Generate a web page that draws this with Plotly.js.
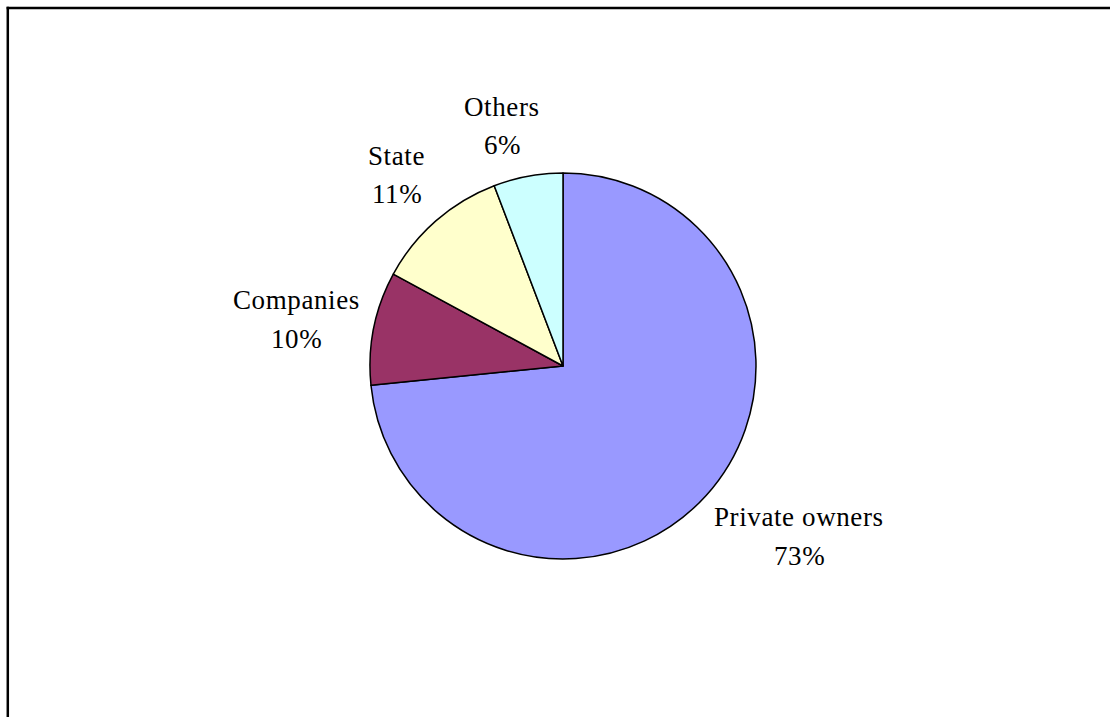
<!DOCTYPE html>
<html><head><meta charset="utf-8">
<script src="https://cdn.plot.ly/plotly-3.0.1.min.js"></script>
<style>html,body{margin:0;padding:0;background:#fff}#chart{width:1110px;height:717px}
.annotation-text{letter-spacing:0.6px}</style>
</head><body><div id="chart"></div>
<script>
// Data
const categories = ['Private owners', 'Companies', 'State', 'Others'];
const shares = [73.4, 9.5, 11.3, 5.8];
const colors = ['#9999FF', '#993366', '#FFFFCC', '#CCFFFF'];

// Layout geometry
const W = 1110, H = 717;
const CX = 563, CY = 366, R = 193;
const FONT = '"Liberation Serif", "Times New Roman", serif';
const FS = 27;
const LS = 0.6;

const total = shares.reduce((a, b) => a + b, 0);
const pctLabels = shares.map(v => Math.round(v / total * 100) + '%');

const canvas = document.createElement('canvas');
const ctx = canvas.getContext('2d');
ctx.font = FS + 'px "Liberation Serif"';
function tw(s) { return ctx.measureText(s).width + LS * s.length; }

// Excel-like outside label placement: the label box corner facing the pie
// sits just outside the circle at the slice's mid-angle.
const annotations = [];
let cum = 0;
shares.forEach((v, i) => {
  const mid = (cum + v / 2) / total * 2 * Math.PI; cum += v;
  const dx = Math.sin(mid), dy = -Math.cos(mid);
  const hw = 0.93 * Math.max(tw(categories[i]), tw(pctLabels[i])) / 2;
  const hh = 30, D = R + 19;
  const fx = Math.min(1, 3.5 * Math.abs(dx));
  const fy = Math.min(1, Math.max(0, 2.5 * (Math.abs(dy) - 0.15)));
  const bx = CX + D * dx + Math.sign(dx) * hw * fx;
  const by = CY + D * dy + Math.sign(dy) * hh * fy + 2;
  const base1 = by - 12.25, base2 = by + 26.25, off = 10.5;
  [[categories[i], base1 - off], [pctLabels[i], base2 - off]].forEach(([t, y]) => {
    annotations.push({
      text: t, x: bx / W, y: 1 - y / H, xref: 'paper', yref: 'paper',
      xanchor: 'center', yanchor: 'middle', showarrow: false,
      font: {family: FONT, size: FS, color: '#000'}
    });
  });
});

const trace = {
  type: 'pie',
  labels: categories,
  values: shares,
  sort: false,
  direction: 'clockwise',
  rotation: 0,
  textinfo: 'none',
  hoverinfo: 'none',
  marker: {colors: colors, line: {color: '#000', width: 1.5}},
  domain: {
    x: [(CX - R) / W, (CX + R) / W],
    y: [(H - CY - R) / H, (H - CY + R) / H]
  }
};

const layout = {
  width: W, height: H,
  margin: {l: 0, r: 0, t: 0, b: 0},
  showlegend: false,
  paper_bgcolor: '#fff',
  annotations: annotations,
  shapes: [
    {type: 'line', xref: 'paper', yref: 'paper', x0: 7.8 / W, x1: 7.8 / W, y0: 0, y1: 1 - 6.7 / H, line: {color: '#000', width: 2.5}},
    {type: 'line', xref: 'paper', yref: 'paper', x0: 6.6 / W, x1: 1, y0: 1 - 8 / H, y1: 1 - 8 / H, line: {color: '#000', width: 2.5}}
  ]
};

Plotly.newPlot('chart', [trace], layout, {staticPlot: true, displayModeBar: false});
</script>
</body></html>
